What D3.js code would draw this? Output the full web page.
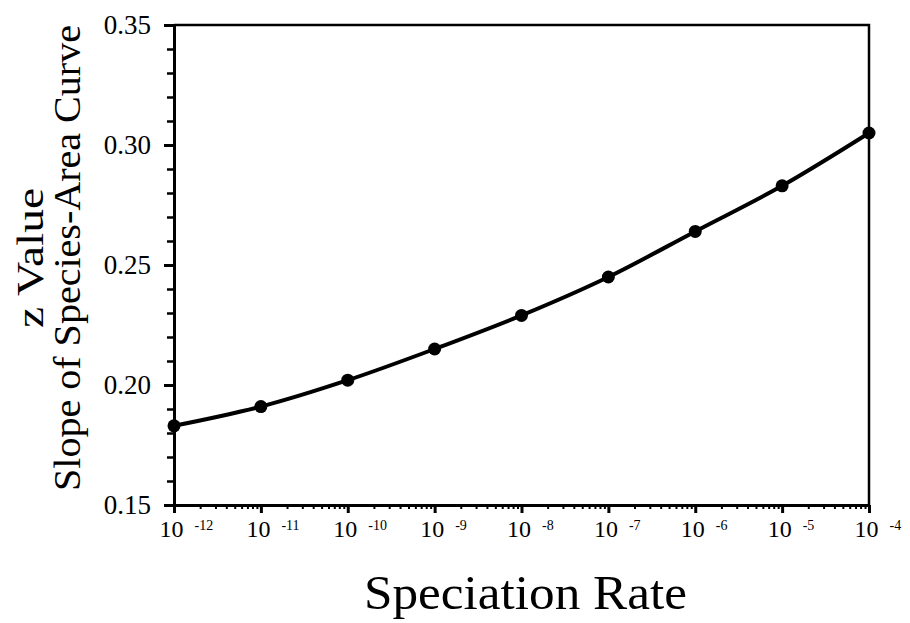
<!DOCTYPE html>
<html>
<head>
<meta charset="utf-8">
<script src="https://cdn.jsdelivr.net/npm/d3@7"></script>
<style>
  html, body { margin: 0; padding: 0; background: #fff; }
  svg { display: block; }
  text { fill: #000; font-family: "Palatino Linotype", Palatino, "Book Antiqua", "Liberation Serif", "DejaVu Serif", serif; }
</style>
</head>
<body>
<svg id="chart" width="910" height="623"></svg>
<script>
// ---- data ----
const exponents = [-12, -11, -10, -9, -8, -7, -6, -5, -4];
const zValues   = [0.183, 0.191, 0.202, 0.215, 0.229, 0.245, 0.264, 0.283, 0.305];
const yTickValues = [0.15, 0.20, 0.25, 0.30, 0.35];
const yTickLabels = ["0.15", "0.20", "0.25", "0.30", "0.35"];
const xTickBase = "10";
const xTitle = "Speciation Rate";
const yTitle1 = "z Value";
const yTitle2 = "Slope of Species-Area Curve";

const rates = exponents.map(e => Math.pow(10, e));
const data = rates.map((r, i) => ({ r, z: zValues[i] }));

// ---- layout ----
const svg = d3.select("#chart");
const mLeft = 174, mRight = 869, mTop = 25, mBottom = 505;

const x = d3.scaleLog().domain([1e-12, 1e-4]).range([mLeft, mRight]);
const y = d3.scaleLinear().domain([0.15, 0.35]).range([mBottom, mTop]);

// frame (top and right)
svg.append("path")
  .attr("d", `M${mLeft},${mTop}H${mRight}V${mBottom}`)
  .attr("fill", "none").attr("stroke", "#000").attr("stroke-width", 2.5);

// y minor ticks
const yMinor = d3.range(15, 36).map(v => v / 100);
svg.append("g")
  .attr("transform", `translate(${mLeft},0)`)
  .call(d3.axisLeft(y).tickValues(yMinor).tickSize(7).tickFormat(""))
  .call(g => g.select(".domain").remove())
  .selectAll("line").attr("stroke-width", 2.5);

// y major axis
const yAxis = svg.append("g")
  .attr("transform", `translate(${mLeft},0)`)
  .call(d3.axisLeft(y).tickValues(yTickValues).tickSize(10).tickSizeOuter(0)
        .tickPadding(13).tickFormat((d, i) => yTickLabels[i]));
yAxis.attr("font-family", null).attr("font-size", null);
yAxis.select(".domain").attr("stroke-width", 3);
yAxis.selectAll("line").attr("stroke-width", 3);
yAxis.selectAll("text").attr("font-size", 27);

// x minor ticks (log)
const xMinor = [];
for (let e = -12; e < -4; e++) for (let m = 2; m <= 9; m++) xMinor.push(m * Math.pow(10, e));
svg.append("g")
  .attr("transform", `translate(0,${mBottom})`)
  .call(d3.axisBottom(x).tickValues(xMinor).tickSize(4).tickFormat(""))
  .call(g => g.select(".domain").remove())
  .selectAll("line").attr("stroke-width", 2);

// x major axis
const xAxis = svg.append("g")
  .attr("transform", `translate(0,${mBottom})`)
  .call(d3.axisBottom(x).tickValues(rates).tickSize(8).tickSizeOuter(0).tickFormat(""));
xAxis.attr("font-family", null).attr("font-size", null);
xAxis.select(".domain").attr("stroke-width", 3);
xAxis.selectAll("line").attr("stroke-width", 3);
xAxis.selectAll(".tick").each(function(d, i) {
  const g = d3.select(this);
  g.select("text").remove();
  g.append("text").attr("x", -3).attr("y", 32).attr("text-anchor", "middle")
    .attr("font-size", 24).text(xTickBase);
  g.append("text").attr("x", 20).attr("y", 25).attr("text-anchor", "start")
    .attr("font-size", 14).text(String(exponents[i]));
});

// line
const line = d3.line().x(d => x(d.r)).y(d => y(d.z)).curve(d3.curveMonotoneX);
svg.append("path").datum(data)
  .attr("d", line).attr("fill", "none").attr("stroke", "#000")
  .attr("stroke-width", 4).attr("stroke-linejoin", "round");

// points
svg.append("g").selectAll("circle").data(data).join("circle")
  .attr("cx", d => x(d.r)).attr("cy", d => y(d.z)).attr("r", 6.5).attr("fill", "#000");

// titles
svg.append("text").attr("x", (mLeft + mRight) / 2 + 4).attr("y", 609)
  .attr("text-anchor", "middle").attr("font-size", 48)
  .attr("textLength", 323).attr("lengthAdjust", "spacingAndGlyphs").text(xTitle);

svg.append("text").attr("transform", `translate(43,258) rotate(-90)`)
  .attr("text-anchor", "middle").attr("font-size", 38)
  .attr("textLength", 140).attr("lengthAdjust", "spacingAndGlyphs").text(yTitle1);
svg.append("text").attr("transform", `translate(80,258) rotate(-90)`)
  .attr("text-anchor", "middle").attr("font-size", 38)
  .attr("textLength", 466).attr("lengthAdjust", "spacingAndGlyphs").text(yTitle2);
</script>
</body>
</html>
